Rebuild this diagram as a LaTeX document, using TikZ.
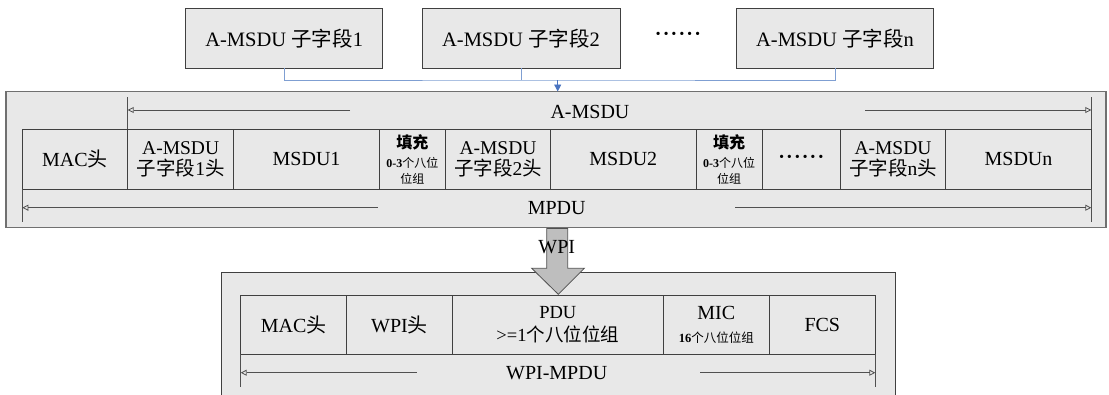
\documentclass[tikz,border=0pt]{standalone}
\usepackage{fontspec}
\setmainfont{Liberation Serif}
\newfontfamily\cjk{Noto Sans CJK SC}
\usetikzlibrary{arrows.meta}
\definecolor{boxfill}{HTML}{E8E8E8}
\definecolor{edgegray}{HTML}{404040}
\definecolor{biggray}{HTML}{707070}
\definecolor{dimgray}{HTML}{505050}
\definecolor{connblue}{HTML}{7F9FD2}
\definecolor{tipblue}{HTML}{4A74C0}
\definecolor{arrowfill}{HTML}{BEBEBE}
\newcommand{\fs}[1]{\fontsize{#1}{#1}\selectfont}
\newcommand{\dotsix}{\textbf{\textperiodcentered\kern1.2pt\textperiodcentered\kern1.2pt\textperiodcentered\kern1.2pt\textperiodcentered\kern1.2pt\textperiodcentered\kern1.2pt\textperiodcentered}}
\tikzset{
  topbox/.style={draw=edgegray, fill=boxfill, line width=0.9pt, minimum height=59.7pt, inner sep=0pt, outer sep=0pt, font=\fs{20.5}},
  bigbox/.style={draw=biggray, fill=boxfill, line width=1.8pt, inner sep=0pt, outer sep=0pt},
  cell/.style={draw=edgegray, fill=boxfill, line width=0.9pt, inner sep=0pt, outer sep=0pt, anchor=west, align=center, font=\fs{20}},
  rowA/.style={cell, minimum height=59.7pt},
  rowB/.style={cell, minimum height=59.3pt},
  dim/.style={draw=dimgray, line width=0.8pt},
  dimtip/.style={dim, -{Triangle[open, length=6pt, width=6pt]}},
  conn/.style={draw=connblue, line width=0.9pt},
  connarrow/.style={draw=tipblue, line width=0.9pt, -{Triangle[length=7pt, width=7pt]}},
  lbl/.style={inner sep=1pt, font=\fs{20}},
  twoline/.style={font=\fs{19.5}, align=center},
  padcell/.style={rowA, font=\fontsize{12}{16}\selectfont},
}
\newcommand{\padtext}{{\bfseries\fontsize{16}{16}\selectfont\cjk 填充}\\[3pt]{\bfseries 0-3{\cjk\mdseries 个八位}}\\{\cjk 位组}}
\begin{document}
\begin{tikzpicture}[x=1pt, y=-1pt]
\useasboundingbox (0,0) rectangle (1109,394);

% top sub-field boxes
\node[topbox, minimum width=197pt] (b1) at (284.2,38.2) {A-MSDU {\cjk 子字段}1};
\node[topbox, minimum width=198pt] (b2) at (521,38.2) {A-MSDU {\cjk 子字段}2};
\node[lbl] (tdots) at (678,36) {\dotsix};
\node[topbox, minimum width=196.6pt] (bn) at (835,38.2) {A-MSDU {\cjk 子字段}n};

% big MPDU box
\node[bigbox, minimum width=1100pt, minimum height=136pt] (big) at (556,159.5) {};

% connectors
\coordinate (j) at (557.7,80);
\draw[conn] (b1.south) |- (j) -| (bn.south);
\draw[conn] (b2.south) -- (b2.south |- j);
\draw[connarrow] (j) -- (j |- big.north);

% first row of cells
\node[rowA, minimum width=105.4pt] (mac) at (22.3,159.2) {MAC{\cjk 头}};
\node[rowA, minimum width=106pt, twoline] (s1h) at (mac.east) {A-MSDU\\[2pt]{\cjk 子字段}1{\cjk 头}};
\node[rowA, minimum width=145.8pt] (m1) at (s1h.east) {MSDU1};
\node[padcell, minimum width=65.8pt] (p1) at (m1.east) {\padtext};
\node[rowA, minimum width=105.4pt, twoline] (s2h) at (p1.east) {A-MSDU\\[2pt]{\cjk 子字段}2{\cjk 头}};
\node[rowA, minimum width=145.3pt] (m2) at (s2h.east) {MSDU2};
\node[padcell, minimum width=66.3pt] (p2) at (m2.east) {\padtext};
\node[rowA, minimum width=78pt] (rdots) at (p2.east) {\dotsix};
\node[rowA, minimum width=105.4pt, twoline] (snh) at (rdots.east) {A-MSDU\\[2pt]{\cjk 子字段}n{\cjk 头}};
\node[rowA, minimum width=145.6pt] (mn) at (snh.east) {MSDUn};

% A-MSDU dimension
\draw[dim] (s1h.north west) -- ++(0,-32.6);
\draw[dim] (mn.north east) -- ++(0,-32.6);
\node[lbl] (amsdu) at (590,112) {A-MSDU};
\coordinate (aL) at (350,110);
\coordinate (aR) at (865,110);
\draw[dimtip] (aL) -- (aL -| s1h.north west);
\draw[dimtip] (aR) -- (aR -| mn.north east);

% MPDU dimension
\draw[dim] (mac.south west) -- ++(0,32.7);
\draw[dim] (mn.south east) -- ++(0,32.7);
\node[lbl] (mpdu) at (556.7,207.7) {MPDU};
\coordinate (mL) at (377.7,207.7);
\coordinate (mR) at (735,207.7);
\draw[dimtip] (mL) -- (mL -| mac.south west);
\draw[dimtip] (mR) -- (mR -| mn.south east);

% lower WPI-MPDU box (extends past the bottom edge)
\fill[boxfill] (221,272.3) rectangle (895.7,400);
\draw[edgegray, line width=0.9pt] (221,400) -- (221,272.3) -- (895.7,272.3) -- (895.7,400);

% WPI block arrow
\draw[fill=arrowfill, draw=dimgray, line width=0.8pt]
  (546.7,228.5) -- (567.7,228.5) -- (567.7,268.3) -- (584.3,268.3) -- (558.3,294.3)
  -- (531.7,268.3) -- (546.7,268.3) -- cycle;
\node[lbl] (wpi) at (556.7,246.7) {WPI};

% lower row of cells
\node[rowB, minimum width=106pt] (lmac) at (240.7,324.65) {MAC{\cjk 头}};
\node[rowB, minimum width=105.6pt] (lwpi) at (lmac.east) {WPI{\cjk 头}};
\node[rowB, minimum width=211pt, font=\fs{18.5}] (pdu) at (lwpi.east) {PDU\\[4pt]>=1{\cjk 个八位位组}};
\node[rowB, minimum width=106pt] (mic) at (pdu.east) {MIC\\[3pt]{\fs{12.5}\bfseries 16{\cjk\mdseries 个八位位组}}};
\node[rowB, minimum width=106pt] (fcs) at (mic.east) {FCS};

% WPI-MPDU dimension
\draw[dim] (lmac.south west) -- ++(0,32.4);
\draw[dim] (fcs.south east) -- ++(0,32.4);
\node[lbl] (wmpdu) at (556.7,372.7) {WPI-MPDU};
\coordinate (wL) at (416.7,372.7);
\coordinate (wR) at (700,372.7);
\draw[dimtip] (wL) -- (wL -| lmac.south west);
\draw[dimtip] (wR) -- (wR -| fcs.south east);
\end{tikzpicture}
\end{document}
